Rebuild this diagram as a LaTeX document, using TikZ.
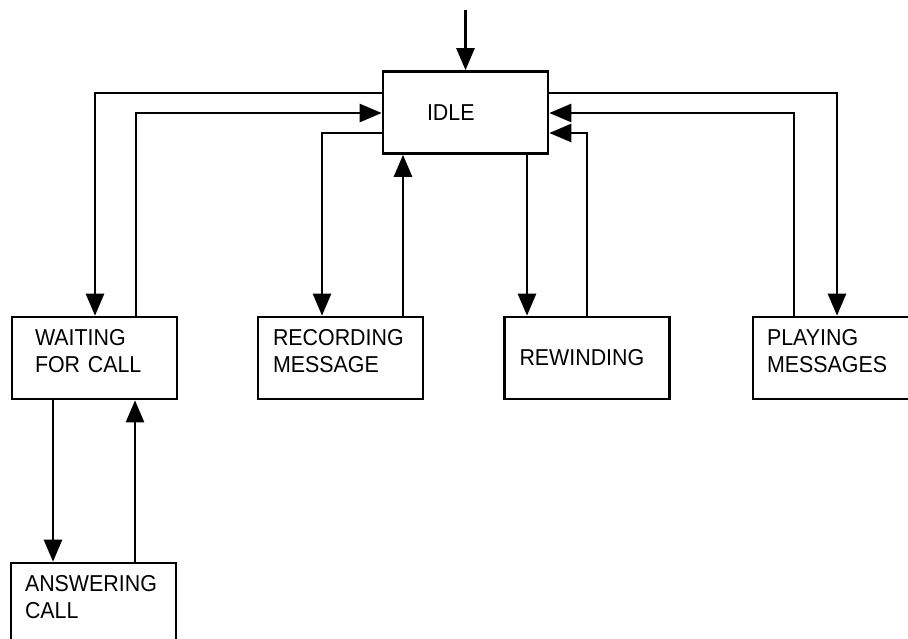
\documentclass[tikz,border=0pt]{standalone}
\usepackage{fontspec}
\setmainfont{Liberation Sans}[FakeStretch=0.93]
\usepackage{tikz}
\usetikzlibrary{arrows.meta}

\begin{document}
\begin{tikzpicture}[x=1pt, y=-1pt, line width=2.7pt,
  state/.style={draw, rectangle, minimum width=165pt, minimum height=82pt,
    inner xsep=15pt, text width=135pt, align=left,
    font=\fontsize{23}{27}\selectfont},
  twoline/.style={text height=17pt, text depth=43pt},
  flow/.style={-{Triangle[length=22pt, width=18pt]}}]
\useasboundingbox (0,0) rectangle (908,639);
\node[state, inner xsep=44pt, text width=77pt] (idle) at (465.5,112.5) {IDLE};
\node[state, twoline, inner xsep=23pt, text width=119pt] (wait) at (94.5,358) {WAITING\\FOR CALL};
\node[state, twoline] (rec) at (340.5,358) {RECORDING\\MESSAGE};
\node[state] (rew) at (587,358) {REWINDING};
\node[state, twoline, inner xsep=14pt, text width=137pt] (play) at (835.5,358) {PLAYING\\MESSAGES};
\node[state, twoline, inner xsep=14pt, text width=137pt] (ans) at (93.5,604) {ANSWERING\\CALL};
\coordinate (init) at (465.5,10);
\draw[flow] (init) -- (idle.north);
\draw[flow] (idle.west |- 0,93) -| (95,0 |- wait.north);
\draw[flow] (136,0 |- wait.north) |- (idle.west |- 0,113);
\draw[flow] (idle.west |- 0,133) -| (322,0 |- rec.north);
\draw[flow] (403,0 |- rec.north) -- (403,0 |- idle.south);
\draw[flow] (527,0 |- idle.south) -- (527,0 |- rew.north);
\draw[flow] (587,0 |- rew.north) |- (idle.east |- 0,133);
\draw[flow] (794,0 |- play.north) |- (idle.east |- 0,113);
\draw[flow] (idle.east |- 0,93) -| (837,0 |- play.north);
\draw[flow] (53,0 |- wait.south) -- (53,0 |- ans.north);
\draw[flow] (135,0 |- ans.north) -- (135,0 |- wait.south);
\end{tikzpicture}
\end{document}
